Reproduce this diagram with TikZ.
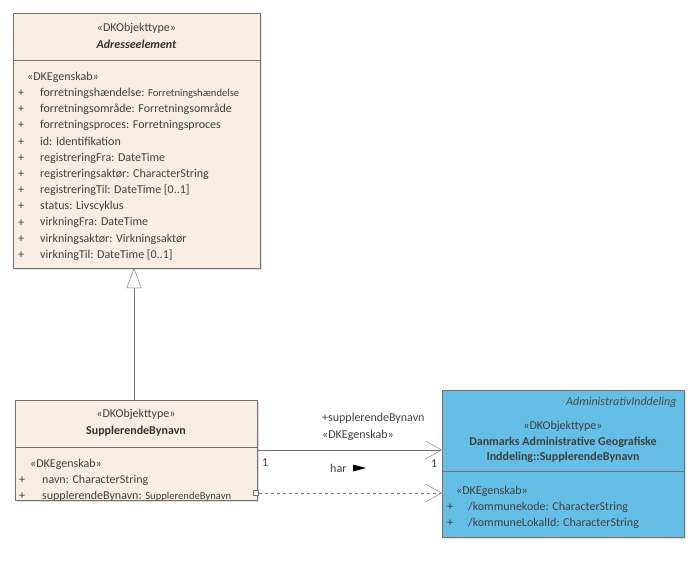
\documentclass[tikz,border=0pt]{standalone}
\usepackage{fontspec}
\setmainfont{Carlito}
\usetikzlibrary{arrows.meta,positioning,shadows}
\definecolor{beige}{RGB}{247,237,227}
\definecolor{skyblue}{RGB}{100,190,230}
\definecolor{edge}{RGB}{120,110,110}
\tikzset{font=\fontsize{12}{14}\selectfont,
  klasse/.style={draw=edge,anchor=north west,inner sep=0pt,drop shadow={opacity=0.25,shadow xshift=2pt,shadow yshift=-2pt}},
  attr/.style={anchor=west,inner sep=0pt,text=black!75},
  open/.style={-{Straight Barb[length=16pt,width=18pt]}}}
\begin{document}
\begin{tikzpicture}[x=1pt,y=-1pt]
\useasboundingbox (0,0) rectangle (696,574);
% Adresseelement
\node[klasse,fill=beige,minimum width=247pt,minimum height=255pt] (A) at (13,13) {};
\draw[edge] (13,60) -- (260,60);
\node[text=black!75] (As) at (136.5,28) {«DKObjekttype»};
\node[font=\fontsize{12}{14}\selectfont\bfseries\itshape,text=black!80] (An) at (136.5,44) {Adresseelement};
\node[attr] (Ae) at (27,77) {«DKEgenskab»};
\foreach \t [count=\i] in {forretningshændelse: {\fontsize{10.6}{12}\selectfont Forretningshændelse},
  forretningsområde: Forretningsområde, forretningsproces: Forretningsproces, id: Identifikation,
  registreringFra: DateTime, registreringsaktør: CharacterString, registreringTil: DateTime [0..1],
  status: Livscyklus, virkningFra: DateTime, virkningsaktør: Virkningsaktør, virkningTil: DateTime [0..1]}{
  \node[attr] at (18,77+16.2*\i) {+};
  \node[attr] at (40,77+16.2*\i) {\t};
}
% SupplerendeBynavn
\node[klasse,fill=beige,minimum width=242pt,minimum height=100pt] (B) at (15,400) {};
\draw[edge] (15,447) -- (257,447);
\node[text=black!75] (Bs) at (136,414) {«DKObjekttype»};
\node[font=\fontsize{12}{14}\selectfont\bfseries,text=black!80] (Bn) at (136,431) {SupplerendeBynavn};
\node[attr] (Be) at (30,464) {«DKEgenskab»};
\node[attr] at (19,480) {+}; \node[attr] at (42,480) {navn: CharacterString};
\node[attr] at (19,496) {+}; \node[attr] at (42,496) {supplerendeBynavn: {\fontsize{10.6}{12}\selectfont SupplerendeBynavn}};
% Danmarks Administrative Geografiske Inddeling
\node[klasse,fill=skyblue,minimum width=242pt,minimum height=147pt] (C) at (442,390) {};
\draw[edge] (442,471) -- (684,471);
\node[anchor=east,font=\fontsize{12}{14}\selectfont\itshape,text=black!70] (Cp) at (680,402) {AdministrativInddeling};
\node[text=black!75] (Cs) at (563,426) {«DKObjekttype»};
\node[font=\fontsize{12}{15}\selectfont\bfseries,align=center,text=black!75] (Cn) at (563,450) {Danmarks Administrative Geografiske\\Inddeling::SupplerendeBynavn};
\node[attr] (Ce) at (456,491) {«DKEgenskab»};
\node[attr] at (447,507) {+}; \node[attr] at (468,507) {/kommunekode: CharacterString};
\node[attr] at (447,523) {+}; \node[attr] at (468,523) {/kommuneLokalId: CharacterString};
% connectors
\coordinate (g1) at (134,400); \coordinate (g2) at (134,268);
\draw[edge,-{Triangle[open,length=20pt,width=15pt]}] (g1) -- (g2);
\coordinate (a1) at (257,450); \coordinate (a2) at (442,450);
\draw[edge,open] (a1) -- (a2);
\node[attr] (r1) at (322,418) {+supplerendeBynavn};
\node[attr] (r2) at (322,435) {«DKEgenskab»};
\node[attr] (m1) at (262,463) {1};
\node[attr] (m2) at (431,464) {1};
\node[attr] (har) at (330,468) {har};
\fill (353,464.5) -- (366,468) -- (353,471.5) -- cycle;
\node[draw=edge,fill=white,minimum size=5pt,inner sep=0pt] (sq) at (256,493) {};
\coordinate (d2) at (442,493);
\draw[edge,dashed,open] (sq) -- (d2);
\end{tikzpicture}
\end{document}
